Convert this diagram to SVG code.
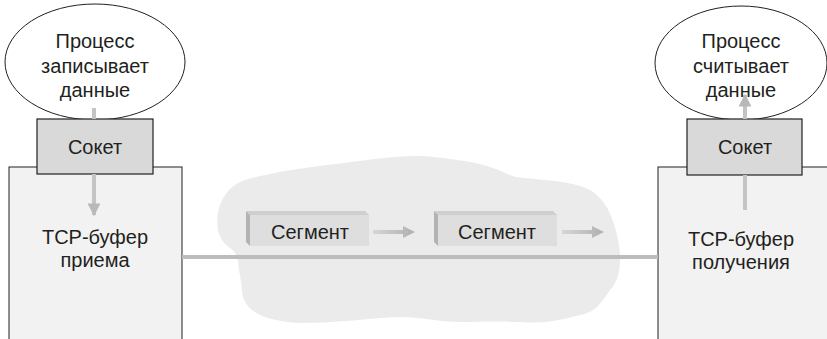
<svg xmlns="http://www.w3.org/2000/svg" width="827" height="339" viewBox="0 0 827 339">
<defs>
<style>
text{font-family:"Liberation Sans","Noto Sans",sans-serif;font-size:20px;fill:#231f20;text-anchor:middle}
.ell{fill:#fff;stroke:#231f20;stroke-width:1}
.sock{fill:#d9d9d9;stroke:#231f20;stroke-width:1.2}
.buf{fill:#f2f2f2;stroke:#231f20;stroke-width:1}
.flow{stroke:#c4c4c4;stroke-width:4;fill:none}
.link{stroke:#bcbcbc;stroke-width:4;fill:none}
.segf{fill:#dedede}
.segs{fill:#b3b3b3}
.segt{fill:#cfcfcf}
</style>
<linearGradient id="hg" x1="0" y1="0" x2="1" y2="0">
<stop offset="0" stop-color="#d6d6d6"/>
<stop offset="1" stop-color="#b0b0b0"/>
</linearGradient>
<marker id="ah" viewBox="0 0 10 10" refX="9" refY="5" markerWidth="3.2" markerHeight="3.2" orient="auto" markerUnits="strokeWidth">
<path d="M0,0 L10,5 L0,10 z" fill="#b8b8b8"/>
</marker>
</defs>
<path id="cloud" d="M218,230 C214,205 228,185 245,180 C280,170 320,166 367,160 C400,156 420,155 433,157 C460,160 475,162 490,167 C505,172 510,176 517,177 C545,181 570,180 590,190 C606,200 612,215 617,235 C623,260 620,280 610,290 C600,305 595,312 580,315 C560,320 545,324 520,322 C495,321 480,322 460,322 C440,322 420,317 400,317 C370,318 340,323 300,323 C280,322 262,318 252,310 C240,300 243,290 240,275 C237,262 240,255 230,248 C222,242 219,236 218,230 Z" fill="#ebebeb"/>
<g id="left-buffer">
<rect class="buf" x="9" y="167" width="173" height="180"/>
<text x="95" y="244">TCP-буфер</text>
<text x="95" y="267">приема</text>
</g>
<g id="left-process">
<ellipse class="ell" cx="95" cy="62" rx="90" ry="58"/>
<text x="95" y="48">Процесс</text>
<text x="95" y="73">записывает</text>
<text x="95" y="97">данные</text>
</g>
<g id="left-socket">
<rect class="sock" x="37" y="119" width="116" height="55"/>
<text x="95" y="154">Сокет</text>
</g>
<g id="right-buffer">
<rect class="buf" x="658" y="167" width="180" height="180"/>
<text x="741" y="246">TCP-буфер</text>
<text x="741" y="269">получения</text>
</g>
<g id="right-process">
<ellipse class="ell" cx="741" cy="63" rx="86" ry="57"/>
<text x="741" y="48">Процесс</text>
<text x="741" y="73">считывает</text>
</g>
<g id="right-socket">
<rect class="sock" x="687" y="119" width="115" height="56"/>
<text x="745" y="154">Сокет</text>
</g>
<g id="segment1">
<polygon class="segt" points="246,211 365,211 369,215 250,215"/>
<polygon class="segs" points="246,211 250,215 250,246 246,242"/>
<rect class="segf" x="250" y="215" width="119" height="31"/>
<text x="310" y="239">Сегмент</text>
</g>
<g id="segment2">
<polygon class="segt" points="434,211 553,211 557,215 438,215"/>
<polygon class="segs" points="434,211 438,215 438,246 434,242"/>
<rect class="segf" x="438" y="215" width="119" height="31"/>
<text x="497" y="239">Сегмент</text>
</g>
<g id="connectors">
<line class="link" x1="182" y1="257" x2="658" y2="257"/>
<line class="flow" x1="94" y1="108" x2="94" y2="119"/>
<line class="flow" x1="94" y1="174" x2="94" y2="215" marker-end="url(#ah)"/>
<line class="flow" x1="745" y1="210" x2="745" y2="175"/>
<line class="flow" x1="745" y1="119" x2="745" y2="95" marker-end="url(#ah)"/>
<path d="M373,230 H403 V226 L415,232 L403,238 V234 H373 Z" fill="url(#hg)"/>
<path d="M562,230 H592 V226 L604,232 L592,238 V234 H562 Z" fill="url(#hg)"/>
</g>
<text x="741" y="97">данные</text>
</svg>
